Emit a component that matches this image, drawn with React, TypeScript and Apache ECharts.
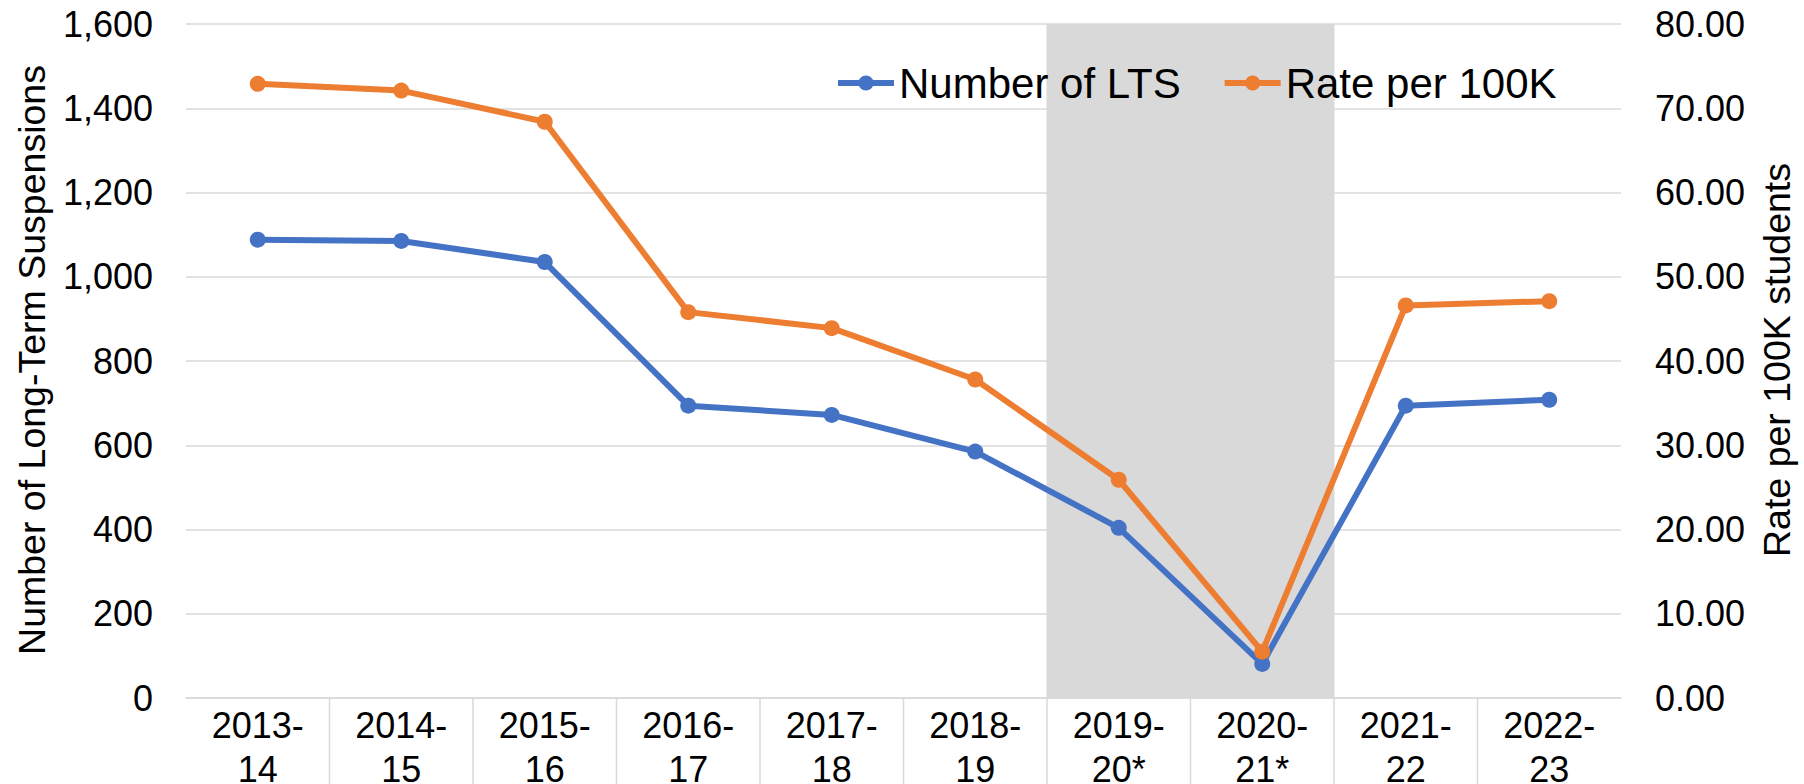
import React, { useEffect, useRef } from "react";
import * as echarts from "echarts";

// ---- Data ----
const categories = [
  "2013-14",
  "2014-15",
  "2015-16",
  "2016-17",
  "2017-18",
  "2018-19",
  "2019-20*",
  "2020-21*",
  "2021-22",
  "2022-23",
];
const numberOfLTS = [1088, 1085, 1035, 694, 672, 585, 404, 81, 694, 708];
const ratePer100K = [72.9, 72.1, 68.4, 45.8, 43.9, 37.8, 25.9, 5.5, 46.6, 47.1];
const shadedCategories = ["2019-20*", "2020-21*"];
const separatorCategories = categories.slice(1);

const leftAxis = { min: 0, max: 1600, interval: 200 };
const rightAxis = { min: 0, max: 80, interval: 10 };

const seriesNames = ["Number of LTS", "Rate per 100K"];
const leftTitle = "Number of Long-Term Suspensions";
const rightTitle = "Rate per 100K students";

const FONT = "'Liberation Sans', Arial, Helvetica, sans-serif";
const BLUE = "#4472C4";
const ORANGE = "#ED7D31";
const GRID = "#D9D9D9";

export default function App() {
  const ref = useRef<HTMLDivElement>(null);

  useEffect(() => {
    if (!ref.current) return;
    const chart = echarts.init(ref.current, null, { renderer: "svg" });

    const option: any = {
      animation: false,
      backgroundColor: "#ffffff",
      textStyle: { fontFamily: FONT },
      grid: {
        left: 186,
        right: 183,
        top: 24,
        bottom: 86,
        containLabel: false,
        outerBoundsMode: "none",
      },
      legend: {
        data: seriesNames,
        left: 835,
        top: 62,
        padding: 0,
        itemWidth: 56,
        itemHeight: 19,
        itemGap: 41,
        textStyle: { fontFamily: FONT, fontSize: 42, lineHeight: 42, color: "#000" },
        lineStyle: { width: 6 },
      },
      xAxis: {
        type: "category",
        data: categories,
        boundaryGap: true,
        axisLine: { show: true, lineStyle: { color: GRID, width: 1.5 } },
        axisTick: { show: false },
        axisLabel: {
          interval: 0,
          margin: 5,
          fontFamily: FONT,
          fontSize: 36,
          lineHeight: 44,
          color: "#000",
          formatter: (v: string) => v.replace("-", "-\n"),
        },
        splitLine: { show: false },
      },
      yAxis: [
        {
          type: "value",
          min: leftAxis.min,
          max: leftAxis.max,
          interval: leftAxis.interval,
          position: "left",
          axisLine: { show: false },
          axisTick: { show: false },
          axisLabel: {
            margin: 33,
            fontFamily: FONT,
            fontSize: 36,
            color: "#000",
            formatter: (v: number) => v.toLocaleString("en-US"),
          },
          splitLine: { show: true, lineStyle: { color: GRID, width: 1.5 } },
        },
        {
          type: "value",
          min: rightAxis.min,
          max: rightAxis.max,
          interval: rightAxis.interval,
          position: "right",
          axisLine: { show: false },
          axisTick: { show: false },
          axisLabel: {
            margin: 34,
            fontFamily: FONT,
            fontSize: 36,
            color: "#000",
            formatter: (v: number) => v.toFixed(2),
          },
          splitLine: { show: false },
        },
      ],
      graphic: [
        {
          type: "text",
          x: 32,
          y: 360,
          rotation: Math.PI / 2,
          style: {
            text: leftTitle,
            fontFamily: FONT,
            fontSize: 37.5,
            fill: "#000",
            align: "center",
            verticalAlign: "middle",
          },
        },
        {
          type: "text",
          x: 1777,
          y: 360,
          rotation: Math.PI / 2,
          style: {
            text: rightTitle,
            fontFamily: FONT,
            fontSize: 37.5,
            fill: "#000",
            align: "center",
            verticalAlign: "middle",
          },
        },
      ],
      series: [
        {
          type: "custom",
          name: "band",
          silent: true,
          clip: false,
          z: 1,
          data: shadedCategories.map((c) => [c, leftAxis.max]),
          renderItem: (params: any, api: any) => {
            const bottom = api.coord([api.value(0), leftAxis.min]);
            const top = api.coord([api.value(0), api.value(1)]);
            const w = api.size([1, 0])[0];
            return {
              type: "rect",
              shape: { x: bottom[0] - w / 2 - 0.5, y: top[1], width: w + 1, height: bottom[1] - top[1] },
              style: { fill: "#D9D9D9" },
            };
          },
        },
        {
          type: "custom",
          name: "separators",
          silent: true,
          clip: false,
          z: 1,
          data: separatorCategories.map((c) => [c, leftAxis.min]),
          renderItem: (params: any, api: any) => {
            const p = api.coord([api.value(0), api.value(1)]);
            const w = api.size([1, 0])[0];
            const x = p[0] - w / 2;
            return {
              type: "line",
              shape: { x1: x, y1: p[1], x2: x, y2: p[1] + 90 },
              style: { stroke: GRID, lineWidth: 1.5 },
            };
          },
        },
        {
          type: "line",
          name: seriesNames[0],
          data: numberOfLTS,
          yAxisIndex: 0,
          z: 3,
          symbol: "circle",
          symbolSize: 16,
          showSymbol: true,
          lineStyle: { color: BLUE, width: 6 },
          itemStyle: { color: BLUE },
        },
        {
          type: "line",
          name: seriesNames[1],
          data: ratePer100K,
          yAxisIndex: 1,
          z: 4,
          symbol: "circle",
          symbolSize: 16,
          showSymbol: true,
          lineStyle: { color: ORANGE, width: 6 },
          itemStyle: { color: ORANGE },
        },
      ],
    };

    chart.setOption(option);
    return () => chart.dispose();
  }, []);

  return (
    <div
      ref={ref}
      style={{ position: "fixed", left: 0, top: 0, width: 1804, height: 784, background: "#fff" }}
    />
  );
}
